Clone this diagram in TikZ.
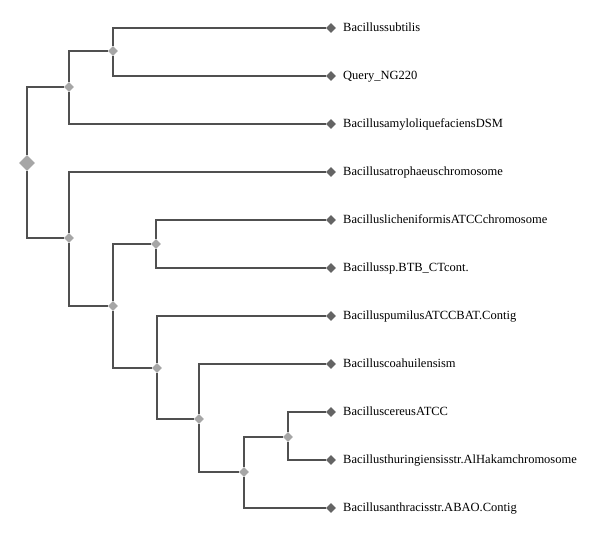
\documentclass[tikz,border=0pt]{standalone}
\usepackage{fontspec}
\setmainfont{Liberation Serif}
\usetikzlibrary{shapes.geometric}
\definecolor{edgecol}{HTML}{505050}
\definecolor{leafcol}{HTML}{646464}
\definecolor{inncol}{HTML}{A6A6A6}
\begin{document}
\begin{tikzpicture}[x=1pt,y=-1pt,
  leaf/.style={diamond,fill=leafcol,inner sep=0pt,minimum size=10pt},
  inner/.style={diamond,fill=inncol,inner sep=0pt,minimum size=10pt},
  rootnode/.style={diamond,fill=inncol,inner sep=0pt,minimum size=16pt},
  lbl/.style={anchor=base west,inner sep=0pt,font=\fontsize{12.5}{14}\selectfont,text=black},
  edge/.style={draw=edgecol,line width=1.1pt}]
\useasboundingbox (0,0) rectangle (600,537);
% leaves
\node[leaf] (l1) at (331,28) {};
\node[leaf] (l2) at (331,76) {};
\node[leaf] (l3) at (331,124) {};
\node[leaf] (l4) at (331,172) {};
\node[leaf] (l5) at (331,220) {};
\node[leaf] (l6) at (331,268) {};
\node[leaf] (l7) at (331,316) {};
\node[leaf] (l8) at (331,364) {};
\node[leaf] (l9) at (331,412) {};
\node[leaf] (l10) at (331,460) {};
\node[leaf] (l11) at (331,508) {};
% labels
\node[lbl] (t1) at (343,31.5) {Bacillussubtilis};
\node[lbl] (t2) at (343,79.5) {Query\_NG220};
\node[lbl] (t3) at (343,127.5) {BacillusamyloliquefaciensDSM};
\node[lbl] (t4) at (343,175.5) {Bacillusatrophaeuschromosome};
\node[lbl] (t5) at (343,223.5) {BacilluslicheniformisATCCchromosome};
\node[lbl] (t6) at (343,271.5) {Bacillussp.BTB\_CTcont.};
\node[lbl] (t7) at (343,319.5) {BacilluspumilusATCCBAT.Contig};
\node[lbl] (t8) at (343,367.5) {Bacilluscoahuilensism};
\node[lbl] (t9) at (343,415.5) {BacilluscereusATCC};
\node[lbl] (t10) at (343,463.5) {Bacillusthuringiensisstr.AlHakamchromosome};
\node[lbl] (t11) at (343,511.5) {Bacillusanthracisstr.ABAO.Contig};
% internal nodes
\node[inner] (A) at (113,51) {};
\node[inner] (B) at (69,87) {};
\node[rootnode] (R) at (27,163) {};
\node[inner] (C) at (69,238) {};
\node[inner] (D) at (156,244) {};
\node[inner] (E) at (113,306) {};
\node[inner] (F) at (157,368) {};
\node[inner] (G) at (199,419) {};
\node[inner] (H) at (244,472) {};
\node[inner] (I) at (288,437) {};
% edges
\draw[edge] (A) |- (l1);
\draw[edge] (A) |- (l2);
\draw[edge] (B) |- (A);
\draw[edge] (B) |- (l3);
\draw[edge] (R) |- (B);
\draw[edge] (R) |- (C);
\draw[edge] (C) |- (l4);
\draw[edge] (C) |- (E);
\draw[edge] (E) |- (D);
\draw[edge] (E) |- (F);
\draw[edge] (D) |- (l5);
\draw[edge] (D) |- (l6);
\draw[edge] (F) |- (l7);
\draw[edge] (F) |- (G);
\draw[edge] (G) |- (l8);
\draw[edge] (G) |- (H);
\draw[edge] (H) |- (I);
\draw[edge] (H) |- (l11);
\draw[edge] (I) |- (l9);
\draw[edge] (I) |- (l10);
\end{tikzpicture}
\end{document}
